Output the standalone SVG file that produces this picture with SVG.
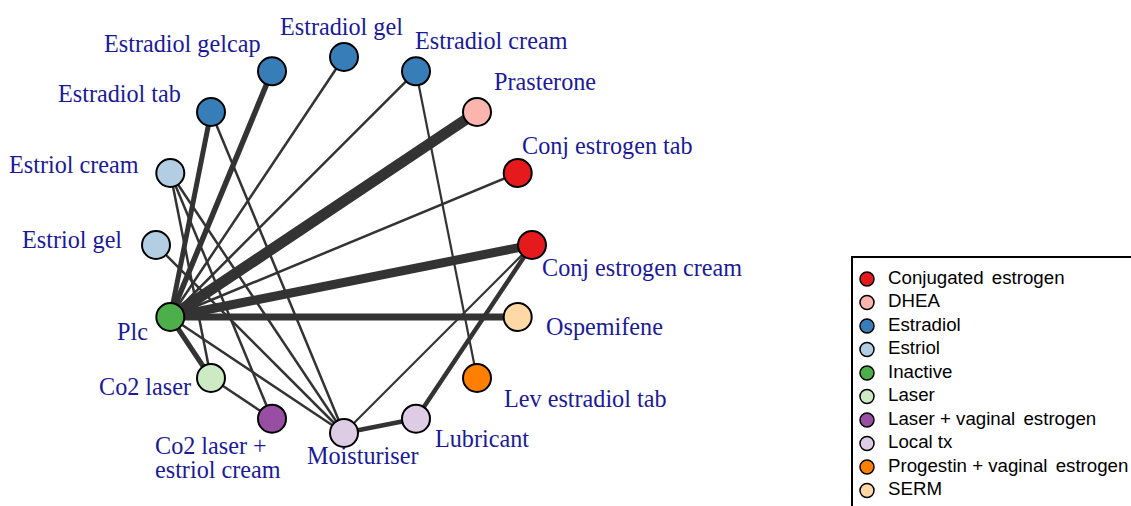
<svg xmlns="http://www.w3.org/2000/svg" width="1131" height="506" viewBox="0 0 1131 506">
  <style>
    .edge { stroke: #333333; stroke-linecap: butt; fill: none; }
    .node circle { stroke: #000000; stroke-width: 2; }
    .lbl { font-family: "Liberation Serif", "Times New Roman", serif; font-size: 24.2px; fill: #1a1a98; }
    .leg text { font-family: "Liberation Sans", Arial, sans-serif; font-size: 18.7px; fill: #000000; }
    .leg circle { stroke: #000000; stroke-width: 1.5; }
    .c-conj { fill: #e41a1c; }
    .c-dhea { fill: #fbb4ae; }
    .c-e2 { fill: #377eb8; }
    .c-e3 { fill: #b3cde3; }
    .c-inact { fill: #4daf4a; }
    .c-laser { fill: #ccebc5; }
    .c-laserve { fill: #984ea3; }
    .c-local { fill: #decbe4; }
    .c-prog { fill: #ff7f00; }
    .c-serm { fill: #fed9a6; }
  </style>
  <rect width="1131" height="506" fill="#ffffff"/>

  <!-- connectors: width encodes number of studies -->
  <g id="edges">
    <line class="edge" x1="170.3" y1="317" x2="477" y2="112" stroke-width="11"/>
    <line class="edge" x1="170.3" y1="317" x2="532" y2="245" stroke-width="9"/>
    <line class="edge" x1="170.3" y1="317" x2="517.7" y2="317" stroke-width="7"/>
    <line class="edge" x1="170.3" y1="317" x2="272" y2="71.3" stroke-width="5.5"/>
    <line class="edge" x1="170.3" y1="317" x2="211" y2="112" stroke-width="5"/>
    <line class="edge" x1="170.3" y1="317" x2="211" y2="378" stroke-width="5"/>
    <line class="edge" x1="170.3" y1="317" x2="344" y2="57" stroke-width="2.5"/>
    <line class="edge" x1="170.3" y1="317" x2="416" y2="71.3" stroke-width="2.5"/>
    <line class="edge" x1="170.3" y1="317" x2="517.7" y2="173" stroke-width="2.5"/>
    <line class="edge" x1="170.3" y1="317" x2="344" y2="433" stroke-width="2.5"/>
    <line class="edge" x1="170.3" y1="173" x2="211" y2="378" stroke-width="2.5"/>
    <line class="edge" x1="170.3" y1="173" x2="272" y2="418.7" stroke-width="2.5"/>
    <line class="edge" x1="170.3" y1="173" x2="344" y2="433" stroke-width="2.5"/>
    <line class="edge" x1="156" y1="245" x2="344" y2="433" stroke-width="2.5"/>
    <line class="edge" x1="211" y1="112" x2="344" y2="433" stroke-width="2.5"/>
    <line class="edge" x1="211" y1="378" x2="272" y2="418.7" stroke-width="2.5"/>
    <line class="edge" x1="416" y1="71.3" x2="477" y2="378" stroke-width="2.2"/>
    <line class="edge" x1="532" y1="245" x2="416" y2="418.7" stroke-width="4.5"/>
    <line class="edge" x1="532" y1="245" x2="344" y2="433" stroke-width="2.2"/>
    <line class="edge" x1="344" y1="433" x2="416" y2="418.7" stroke-width="4.5"/>
  </g>

  <!-- treatment nodes on a circle (centre 344,245; radius 188) -->
  <g id="n-estradiol-gel" class="node"><circle class="c-e2" cx="344" cy="57" r="14"/><text class="lbl" x="280" y="35">Estradiol gel</text></g>
  <g id="n-estradiol-cream" class="node"><circle class="c-e2" cx="416" cy="71.3" r="14"/><text class="lbl" x="415" y="49">Estradiol cream</text></g>
  <g id="n-prasterone" class="node"><circle class="c-dhea" cx="477" cy="112" r="14"/><text class="lbl" x="494" y="90">Prasterone</text></g>
  <g id="n-conj-tab" class="node"><circle class="c-conj" cx="517.7" cy="173" r="14"/><text class="lbl" x="522" y="154">Conj estrogen tab</text></g>
  <g id="n-conj-cream" class="node"><circle class="c-conj" cx="532" cy="245" r="14"/><text class="lbl" x="542" y="276">Conj estrogen cream</text></g>
  <g id="n-ospemifene" class="node"><circle class="c-serm" cx="517.7" cy="317" r="14"/><text class="lbl" x="546" y="335">Ospemifene</text></g>
  <g id="n-lev-estradiol" class="node"><circle class="c-prog" cx="477" cy="378" r="14"/><text class="lbl" x="504" y="407">Lev estradiol tab</text></g>
  <g id="n-lubricant" class="node"><circle class="c-local" cx="416" cy="418.7" r="14"/><text class="lbl" x="435" y="447">Lubricant</text></g>
  <g id="n-moisturiser" class="node"><circle class="c-local" cx="344" cy="433" r="14"/><text class="lbl" x="307" y="464">Moisturiser</text></g>
  <g id="n-co2-estriol" class="node"><circle class="c-laserve" cx="272" cy="418.7" r="14"/><text class="lbl" x="155" y="454">Co2 laser +<tspan x="155" dy="24">estriol cream</tspan></text></g>
  <g id="n-co2-laser" class="node"><circle class="c-laser" cx="211" cy="378" r="14"/><text class="lbl" x="99" y="395">Co2 laser</text></g>
  <g id="n-plc" class="node"><circle class="c-inact" cx="170.3" cy="317" r="14"/><text class="lbl" x="117" y="340">Plc</text></g>
  <g id="n-estriol-gel" class="node"><circle class="c-e3" cx="156" cy="245" r="14"/><text class="lbl" x="22" y="248">Estriol gel</text></g>
  <g id="n-estriol-cream" class="node"><circle class="c-e3" cx="170.3" cy="173" r="14"/><text class="lbl" x="9" y="173">Estriol cream</text></g>
  <g id="n-estradiol-tab" class="node"><circle class="c-e2" cx="211" cy="112" r="14"/><text class="lbl" x="58" y="102">Estradiol tab</text></g>
  <g id="n-estradiol-gelcap" class="node"><circle class="c-e2" cx="272" cy="71.3" r="14"/><text class="lbl" x="104" y="52">Estradiol gelcap</text></g>

  <!-- legend of treatment classes -->
  <g id="legend" class="leg">
    <rect x="852" y="257" width="300" height="270" fill="#ffffff" stroke="#000000" stroke-width="2"/>
    <circle class="c-conj" cx="867" cy="279" r="7"/><text x="888" y="283.5">Conjugated <tspan dx="3">estrogen</tspan></text>
    <circle class="c-dhea" cx="867" cy="302.5" r="7"/><text x="888" y="307">DHEA</text>
    <circle class="c-e2" cx="867" cy="326" r="7"/><text x="888" y="330.5">Estradiol</text>
    <circle class="c-e3" cx="867" cy="349.5" r="7"/><text x="888" y="354">Estriol</text>
    <circle class="c-inact" cx="867" cy="373" r="7"/><text x="888" y="377.5">Inactive</text>
    <circle class="c-laser" cx="867" cy="396.5" r="7"/><text x="888" y="401">Laser</text>
    <circle class="c-laserve" cx="867" cy="420" r="7"/><text x="888" y="424.5">Laser + vaginal <tspan dx="3">estrogen</tspan></text>
    <circle class="c-local" cx="867" cy="443.5" r="7"/><text x="888" y="448">Local tx</text>
    <circle class="c-prog" cx="867" cy="467" r="7"/><text x="888" y="471.5">Progestin + vaginal <tspan dx="3">estrogen</tspan></text>
    <circle class="c-serm" cx="867" cy="490.5" r="7"/><text x="888" y="495">SERM</text>
  </g>
</svg>
